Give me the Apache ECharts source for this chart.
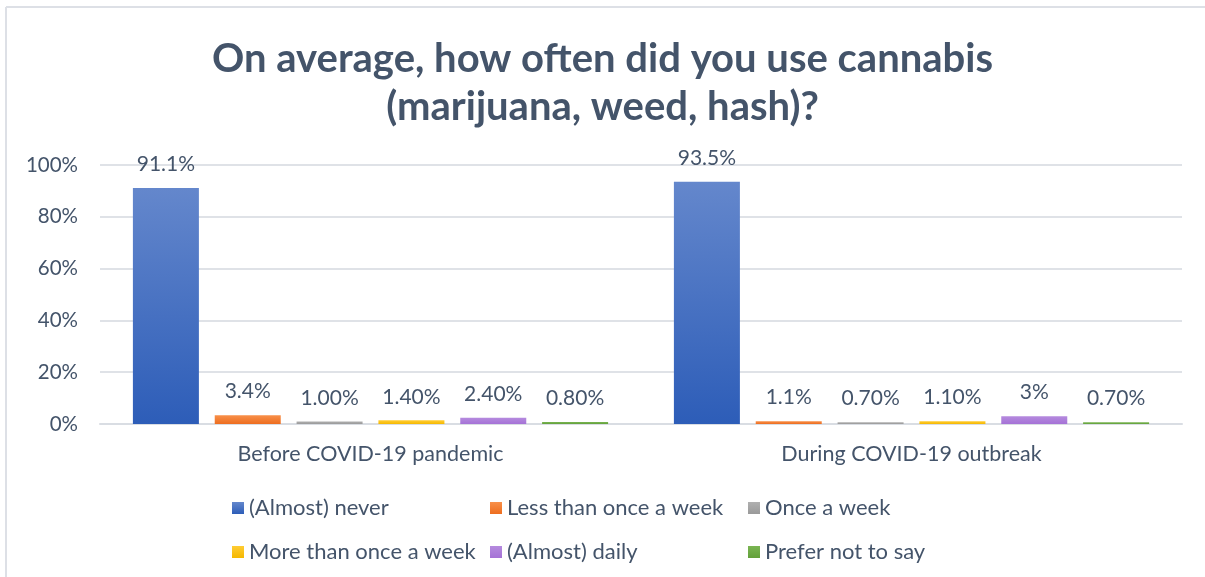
<!DOCTYPE html>
<html>
<head>
<meta charset="utf-8">
<title>Cannabis use frequency</title>
<script src="https://cdn.jsdelivr.net/npm/echarts@6/dist/echarts.min.js"></script>
<style>
  html, body { margin: 0; padding: 0; background: #ffffff; }
  #chart { width: 1205px; height: 577px; }
</style>
</head>
<body>
<div id="chart"></div>
<script>
// Survey periods on the x axis
const periods = ['Before COVID-19 pandemic', 'During COVID-19 outbreak'];

// Answer options, one series each
const answers = ['(Almost) never', 'Less than once a week', 'Once a week',
                 'More than once a week', '(Almost) daily', 'Prefer not to say'];

// Share of respondents (%) per answer, [before, during]
const almostNever   = [91.1, 93.5];
const lessThanWeek  = [3.4, 1.1];
const onceWeek      = [1.0, 0.7];
const moreThanWeek  = [1.4, 1.1];
const almostDaily   = [2.4, 3.0];
const preferNot     = [0.8, 0.7];

// Label text as printed on each bar
const labelsNever  = ['91.1%', '93.5%'];
const labelsLess   = ['3.4%', '1.1%'];
const labelsOnce   = ['1.00%', '0.70%'];
const labelsMore   = ['1.40%', '1.10%'];
const labelsDaily  = ['2.40%', '3%'];
const labelsPrefer = ['0.80%', '0.70%'];

// Y axis ticks
const yMin = 0, yMax = 100, yStep = 20;

const seriesValues = [almostNever, lessThanWeek, onceWeek, moreThanWeek, almostDaily, preferNot];
const seriesLabels = [labelsNever, labelsLess, labelsOnce, labelsMore, labelsDaily, labelsPrefer];
const palette = [
  ['#6487cc', '#2d5db8'],
  ['#f8904a', '#ed6d1f'],
  ['#b0b0b0', '#9a9a9a'],
  ['#ffcc33', '#f5b800'],
  ['#b58ade', '#a572d6'],
  ['#7ab552', '#63a03a']
];

const textColor = '#44546a';
const fontFamily = 'Lato, "Open Sans", sans-serif';

const chart = echarts.init(document.getElementById('chart'), null, { renderer: 'canvas' });

const series = answers.map((name, i) => ({
  name: name,
  type: 'bar',
  barWidth: 66,
  barGap: '24%',
  data: seriesValues[i],
  itemStyle: {
    color: new echarts.graphic.LinearGradient(0, 0, 0, 1, [
      { offset: 0, color: palette[i][0] },
      { offset: 1, color: palette[i][1] }
    ])
  },
  label: {
    show: true,
    position: 'top',
    distance: 13,
    color: textColor,
    fontSize: 21,
    fontFamily: fontFamily,
    formatter: p => seriesLabels[i][p.dataIndex]
  }
}));

// Legend laid out in a 3x2 grid of fixed columns
const legendCols = [232, 490, 748];
const legendRows = [497, 541];
const legends = answers.map((name, i) => ({
  data: [name],
  left: legendCols[i % 3],
  top: legendRows[Math.floor(i / 3)],
  itemWidth: 12,
  itemHeight: 12,
  itemGap: 0,
  icon: 'rect',
  padding: 0,
  textStyle: { color: textColor, fontSize: 22, fontFamily: fontFamily, padding: [0, 0, 0, 0] }
}));

chart.setOption({
  backgroundColor: '#ffffff',
  color: palette.map(p => p[1]),
  title: {
    text: 'On average, how often did you use cannabis\n(marijuana, weed, hash)?',
    left: 'center',
    top: 30,
    textStyle: {
      color: textColor,
      fontSize: 40,
      fontWeight: 'bold',
      fontFamily: fontFamily,
      lineHeight: 48
    }
  },
  legend: legends,
  grid: { left: 100, right: 23, top: 165, bottom: 153, containLabel: false },
  xAxis: {
    type: 'category',
    data: periods,
    axisLine: { show: true, lineStyle: { color: '#d9dde3', width: 2 } },
    axisTick: { show: false },
    axisLabel: { color: textColor, fontSize: 21.5, fontFamily: fontFamily, margin: 19 }
  },
  yAxis: {
    type: 'value',
    min: yMin,
    max: yMax,
    interval: yStep,
    axisLine: { show: false },
    axisTick: { show: false },
    splitLine: { lineStyle: { color: '#dfe2e7', width: 2 } },
    axisLabel: { color: textColor, fontSize: 20.5, fontFamily: fontFamily, margin: 22, formatter: '{value}%' }
  },
  graphic: [
    { type: 'line', shape: { x1: 6, y1: 7, x2: 1205, y2: 7 }, style: { stroke: '#dde0e6', lineWidth: 2 } },
    { type: 'line', shape: { x1: 6, y1: 7, x2: 6, y2: 577 }, style: { stroke: '#dde0e6', lineWidth: 2 } }
  ],
  series: series
});
</script>
</body>
</html>
